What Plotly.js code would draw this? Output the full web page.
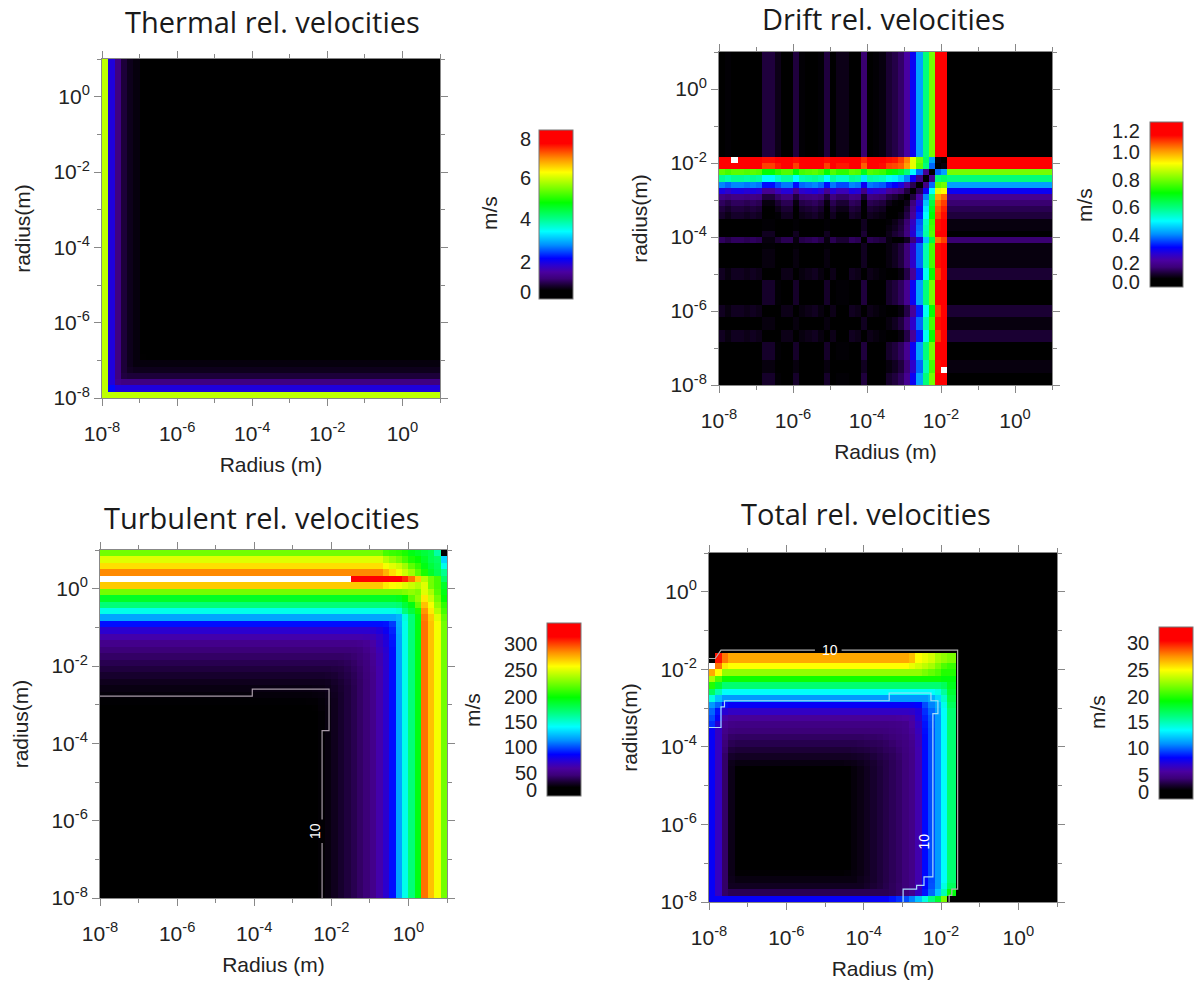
<!DOCTYPE html>
<html><head><meta charset="utf-8">
<script src="https://cdn.plot.ly/plotly-3.0.1.min.js"></script>
<style>html,body{margin:0;padding:0;background:#fff}</style></head>
<body><div id="chart" style="width:1198px;height:984px"></div>
<script>
// ---------- tick labels ----------
const majorTicks=[1e-8,1e-6,1e-4,1e-2,1];
const majorLabels=['10<sup>-8</sup>','10<sup>-6</sup>','10<sup>-4</sup>','10<sup>-2</sup>','10<sup>0</sup>'];
const minorTicks=[1e-7,1e-5,1e-3,1e-1,10];

// ---------- colour-bar levels (m/s) and where each one sits along its bar ----------
const thermalLevels=[0,2,4,6,8],            thermalStops=[.04,.219,.473,.716,.947];
const driftLevels=[0,.2,.4,.6,.8,1,1.2],    driftStops=[.03,.145,.315,.485,.65,.818,.945];
const turbLevels=[0,50,100,150,200,250,300],turbStops=[.035,.133,.283,.428,.572,.728,.879];
const totalLevels=[0,5,10,15,20,25,30],     totalStops=[.04,.14,.297,.448,.593,.75,.907];
const thermalLabels=['0','2','4','6','8'];
const driftLabels=['0.0','0.2','0.4','0.6','0.8','1.0','1.2'];
const turbLabels=['0','50','100','150','200','250','300'];
const totalLabels=['0','5','10','15','20','25','30'];

// ---------- Thermal: cell edges (log10 m) and values (m/s), rows bottom to top ----------
const thermalEdges=[-8,-7.833,-7.667,-7.5,-7.333,-7.167,-7,-6.833,1];
const thermalZ=[
[5.9,5.9,5.9,5.9,5.9,5.9,5.9,5.9],
[5.9,2.2,1.9,1.9,1.9,1.9,1.9,1.9],
[5.9,1.9,1.1,1,1,1,1,1],
[5.9,1.9,1,.55,.5,.5,.5,.5],
[5.9,1.9,1,.5,.35,.3,.3,.3],
[5.9,1.9,1,.5,.3,.2,.2,.2],
[5.9,1.9,1,.5,.3,.2,.12,.1],
[5.9,1.9,1,.5,.3,.2,.1,0]];

// ---------- Drift ----------
const driftEdges=[-8,-7.833,-7.667,-7.5,-7.333,-7.167,-7,-6.833,-6.667,-6.5,-6.333,-6.167,-6,-5.833,-5.667,-5.5,-5.333,-5.167,-5,-4.833,-4.667,-4.5,-4.333,-4.167,-4,-3.833,-3.667,-3.5,-3.333,-3.167,-3,-2.833,-2.667,-2.5,-2.333,-2.167,-2,-1.833,1];
const dDim=[0,.02,0,0,.01,0,.01,.08,.08,.04,.01,.01,.08,.02,.01,0,.02,.08,.01,.04,.04,0,.01,.1,.01,.02,.03,.08,.1,.13,.2,.3,.42,.6,.8,1.2,1.25,.02];
const dMid=[.03,.01,.03,.03,.02,.03,.02,.05,.05,.01,.02,.02,.05,.01,.02,.03,.01,.05,.02,.01,.01,.03,.02,.07,.02,.01,0,.05,.07,.1,.16,.26,.38,.56,.76,1.15,1.2,.05];
const dHole=[.03,.01,.03,.03,.02,.03,.02,.05,.05,.01,.02,.02,.05,.01,.02,.03,.01,.05,.02,.01,.01,.03,.02,.07,.02,.01,0,.05,.07,.1,.16,.26,.38,.56,.76,1.15,null,.05];
const dHigh=[.07,.05,.07,.07,.06,.07,.06,.01,.01,.03,.06,.06,.01,.05,.06,.07,.05,.01,.06,.03,.03,.07,.06,.01,.06,.05,.04,.01,.02,.05,.11,.21,.33,.51,.71,1.11,1.16,.09];
const d22=[.03,.02,.03,.03,.02,.03,.02,.04,.04,.02,.02,.02,.04,.02,.02,.03,.02,.04,.02,.02,.02,.01,0,.07,.02,.01,.01,.05,.07,.1,.16,.26,.38,.56,.76,1.15,1.2,.05];
const d23=[.13,.11,.13,.13,.12,.13,.12,.05,.05,.09,.12,.12,.05,.11,.12,.13,.11,.05,.12,.09,.09,.13,.12,0,.12,.11,.1,.05,.03,.02,.07,.16,.28,.45,.65,1.05,1.1,.15];
const d24=[.01,.02,.01,.01,.01,.01,.01,.07,.07,.03,.01,.01,.07,.02,.01,.01,.02,.07,.01,.03,.03,.01,.01,.09,0,.01,.02,.06,.09,.11,.17,.27,.39,.57,.77,1.17,1.22,.03];
const d25=[.03,.02,.03,.03,.02,.03,.02,.04,.04,.02,.02,.02,.04,.02,.02,.03,.02,.04,.02,.02,.02,.03,.02,.07,.02,0,.01,.05,.07,.1,.16,.26,.38,.56,.76,1.15,1.2,.05];
const d26=[.03,.02,.03,.03,.02,.03,.02,.04,.04,.02,.02,.02,.04,.02,.02,.03,.02,.04,.02,.02,.02,.03,.02,.07,.02,.01,0,.04,.06,.09,.15,.25,.37,.55,.75,1.15,1.2,.05];
const d27=[.08,.06,.08,.08,.07,.08,.07,.02,.02,.04,.07,.07,.02,.06,.07,.08,.06,.02,.07,.04,.04,.08,.07,.02,.07,.06,.05,0,.02,.05,.11,.21,.33,.5,.7,1.1,1.15,.1];
const d28=[.1,.08,.1,.1,.09,.1,.09,.03,.03,.06,.09,.09,.03,.08,.09,.1,.08,.03,.09,.06,.06,.1,.09,.02,.09,.08,.07,.03,0,.03,.09,.19,.3,.48,.68,1.08,1.13,.12];
const d29=[.13,.11,.13,.13,.12,.13,.12,.05,.05,.09,.12,.12,.05,.11,.12,.13,.11,.05,.12,.09,.09,.13,.12,.03,.12,.11,.1,.06,.04,0,.06,.16,.27,.45,.65,1.05,1.1,.15];
const d30=[.18,.16,.18,.18,.17,.18,.17,.1,.1,.14,.17,.17,.1,.16,.17,.18,.16,.1,.17,.14,.14,.18,.17,.08,.17,.16,.15,.11,.09,.06,0,.1,.22,.4,.6,1,1.05,.2];
const d31=[.28,.26,.28,.28,.27,.28,.27,.2,.2,.24,.27,.27,.2,.26,.27,.28,.26,.2,.27,.24,.24,.28,.27,.18,.27,.26,.25,.21,.19,.16,.1,0,.12,.3,.5,.9,.92,.3];
const d32=[.4,.38,.4,.4,.39,.4,.39,.32,.32,.36,.39,.39,.32,.38,.39,.4,.38,.32,.39,.36,.36,.4,.39,.3,.39,.38,.37,.33,.31,.28,.22,.12,0,.18,.38,.78,.8,.42];
const d33=[.58,.56,.58,.58,.57,.58,.57,.5,.5,.54,.57,.57,.5,.56,.57,.58,.56,.5,.57,.54,.54,.58,.57,.48,.57,.56,.55,.51,.49,.46,.4,.3,.18,0,.2,.6,.62,.6];
const d34=[.78,.76,.78,.78,.77,.78,.77,.7,.7,.74,.77,.77,.7,.76,.77,.78,.76,.7,.77,.74,.74,.78,.77,.68,.77,.76,.75,.71,.69,.66,.6,.5,.38,.2,0,.38,.42,.8];
const d35=[1.18,1.16,1.18,1.18,1.17,1.18,1.17,1.1,1.1,1.14,1.17,1.17,1.1,1.16,1.17,1.18,1.16,1.1,1.17,1.14,1.14,1.18,1.17,1.07,1.17,1.16,1.15,1.1,1.09,1.07,1,.9,.78,.6,.38,0,.05,1.2];
const d36=[1.23,1.21,null,1.23,1.22,1.23,1.22,1.15,1.15,1.19,1.22,1.22,1.15,1.21,1.22,1.23,1.21,1.15,1.22,1.19,1.19,1.23,1.22,1.12,1.22,1.21,1.2,1.15,1.14,1.1,1.03,.9,.8,.62,.42,.05,0,1.25];
const d37=[.02,.04,.02,.02,.03,.02,.03,.1,.1,.06,.03,.03,.1,.04,.03,.02,.04,.1,.03,.06,.06,.02,.03,.15,.03,.04,.05,.09,.11,.14,.22,.3,.42,.6,.8,1.2,1.25,0];
const driftZ=[dDim,dDim,dHole,dMid,dDim,dDim,dDim,dHigh,dHigh,dMid,dMid,dHigh,dHigh,dDim,dDim,dDim,dDim,dHigh,dHigh,dMid,dMid,dMid,d22,d23,d24,d25,d26,d27,d28,d29,d30,d31,d32,d33,d34,d35,d36,d37];

// ---------- Turbulent ----------
const turbXEdges=[-8,-3,-2.833,-2.667,-2.5,-2.333,-2.167,-2,-1.833,-1.667,-1.5,-1.333,-1.167,-1,-.833,-.667,-.5,-.333,-.167,0,.167,.333,.5,.667,.833,1];
const turbYEdges=[-8,-3.5,-3.333,-3.167,-3,-2.833,-2.667,-2.5,-2.333,-2.167,-2,-1.833,-1.667,-1.5,-1.333,-1.167,-1,-.833,-.667,-.5,-.333,-.167,0,.167,.333,.5,.667,.833,1];
const turbZ=[
[1.5,3,4,5.5,7,9,12,17,22,27,32,38,44,52,62,72,88,118,145,170,195,290,272,255,225],
[3.5,4,4.5,5.5,7,9,12,17,22,27,32,38,44,52,62,72,88,118,145,170,195,290,272,255,225],
[5,5,5.5,6,7.5,9,12,17,22,27,32,38,44,52,62,72,88,118,145,170,195,290,272,255,225],
[6.5,6.5,7,7,8,10,12,17,22,27,32,38,44,52,62,72,88,118,145,170,195,290,272,255,225],
[8.5,8.5,8.5,9,9,10.5,13,17,22,27,32,38,44,52,62,72,88,118,145,170,195,290,272,255,225],
[11,11,11,11,11.5,12,14,18,22,27,32,38,44,52,62,72,88,118,145,170,195,290,272,255,225],
[13.5,13.5,13.5,13.5,14,14.5,16,19,23,27,32,38,44,52,62,72,88,118,145,170,195,290,272,255,225],
[17,17,17,17,17,17,18,21,24,28,33,38,44,52,62,72,88,118,145,170,195,290,272,255,225],
[22,22,22,22,22,22,23,24,27,30,34,39,45,52,62,72,88,118,145,170,195,290,272,255,225],
[27,27,27,27,27,27,27,28,29,32,36,40,46,53,62,72,88,118,145,170,195,290,272,255,225],
[32,32,32,32,32,32,32,32,33,35,38,42,47,54,63,72,88,118,145,170,195,290,272,255,225],
[38,38,38,38,38,38,38,38,38,39,41,44,49,55,63,72,88,118,145,170,195,290,272,255,225],
[44,44,44,44,44,44,44,44,44,44,45,47,52,57,65,73,88,118,145,170,195,290,272,255,225],
[52,52,52,52,52,52,52,52,52,52,52,53,55,60,67,75,89,118,145,170,195,290,272,255,225],
[62,62,62,62,62,62,62,62,62,62,62,62,63,65,70,77,90,118,145,170,195,290,272,255,225],
[72,72,72,72,72,72,72,72,72,72,72,72,72,73,76,82,92,119,145,170,195,290,272,255,225],
[88,88,88,88,88,88,88,88,88,88,88,88,88,88,88,89,96,120,145,170,195,290,272,255,225],
[118,118,118,118,118,118,118,118,118,118,118,118,118,118,118,118,118,122,147,170,195,288,270,250,222],
[145,145,145,145,145,145,145,145,145,145,145,145,145,145,145,145,145,148,170,185,205,282,262,240,215],
[170,170,170,170,170,170,170,170,170,170,170,170,170,170,170,170,170,172,185,195,222,272,255,232,210],
[190,190,190,190,190,190,190,190,190,190,190,190,190,190,190,190,190,192,200,220,232,262,245,225,200],
[225,225,225,225,225,225,225,225,225,225,225,225,225,225,225,225,225,225,228,232,228,250,238,218,195],
[270,270,270,270,270,270,270,270,270,270,270,270,270,270,270,262,258,255,250,245,240,250,225,215,190],
[null,null,null,null,null,null,null,null,null,null,335,335,335,335,335,335,335,330,305,290,270,240,225,215,175],
[285,285,285,285,285,285,285,285,285,285,285,285,285,285,285,275,265,255,245,235,220,205,190,180,165],
[265,265,265,265,265,265,265,265,265,265,265,265,265,265,265,255,250,245,235,220,210,195,185,178,145],
[250,250,250,250,250,250,250,250,250,250,250,250,250,250,250,240,232,225,215,205,200,190,180,175,130],
[225,225,225,225,225,225,225,225,225,225,225,225,225,225,225,215,212,210,205,195,190,185,180,160,0]];
const turbContourX=[-8,-4.05,-4.05,-2.06,-2.06,-2.24,-2.24,null,-2.24,-2.24];
const turbContourY=[-2.78,-2.78,-2.6,-2.6,-3.67,-3.67,-5.97,null,-6.58,-8];

// ---------- Total ----------
const totalXEdges=[-8,-7.833,-7.667,-7.5,-7.333,-4.5,-4.333,-4.167,-4,-3.833,-3.667,-3.5,-3.333,-3.167,-3,-2.833,-2.667,-2.5,-2.333,-2.167,-2,-1.833,-1.62,1];
const totalYEdges=[-8,-7.833,-7.667,-7.5,-7.333,-7.167,-4.5,-4.333,-4.167,-4,-3.833,-3.667,-3.5,-3.333,-3.167,-3,-2.833,-2.667,-2.5,-2.333,-2.167,-2,-1.833,-1.59,1];
const totalZ=[
[8,8,8,8,8,8,8,8,8,8,8,8,8.5,9,9.5,10.5,12,14,16,18,22,0,0],
[8,6.5,3.5,3,3,3,3,3,3,3,3,3,3.2,3.6,4.2,5,6.5,8.5,10,12,15,19,0],
[8,6.5,3.5,1.5,1.5,1.5,1.5,1.5,1.8,2.1,2.4,2.8,3.2,3.6,4.1,4.8,6,8.3,9.6,11,14,17,0],
[8,6.5,3.5,1.3,1,1,1,1.3,1.6,1.9,2.3,2.7,3.1,3.5,4.1,4.8,6,8.3,9.5,11,13.5,16.5,0],
[8,6.5,3.5,1.2,.6,.7,.9,1.1,1.5,1.9,2.3,2.7,3.1,3.5,4.1,4.8,6,8.3,9.5,11,13.5,16.5,0],
[8,6.5,3.5,1.2,.3,.5,.8,1.1,1.5,1.9,2.3,2.7,3.1,3.5,4.1,4.8,6,8.3,9.5,11,13.5,16.5,0],
[8,6.5,3.5,1.3,1,1.1,1.2,1.4,1.7,2,2.4,2.7,3.1,3.5,4.1,4.8,6,8.3,9.5,11,13.5,16.5,0],
[8,6.5,3.5,1.8,1.6,1.6,1.7,1.8,2,2.3,2.6,2.9,3.2,3.6,4.2,4.8,6,8.3,9.5,11,13.5,16.5,0],
[8,6.5,3.8,2.4,2.2,2.2,2.3,2.4,2.5,2.7,2.9,3.2,3.4,3.8,4.3,4.9,6,8.3,9.5,11,13.5,16.5,0],
[8,6.5,4,3,2.8,2.8,2.8,2.9,3,3.1,3.2,3.4,3.7,4,4.4,5,6.1,8.3,9.5,11,13.5,16.5,0],
[8,6.5,4.4,3.5,3.4,3.4,3.4,3.4,3.5,3.5,3.6,3.8,4,4.3,4.6,5.2,6.2,8.3,9.5,11,13.5,16.5,0],
[8,6.5,4.8,4.1,4,4,4,4,4,4.1,4.1,4.2,4.4,4.6,4.9,5.4,6.4,8.4,9.5,11,13.5,16.5,0],
[9,7,5.2,4.7,4.6,4.6,4.6,4.6,4.6,4.6,4.6,4.6,4.7,4.8,5,5.6,6.6,8.5,9.6,11,13.5,16.5,0],
[9.5,8,5.8,5.4,5.4,5.4,5.4,5.4,5.4,5.4,5.4,5.4,5.4,5.5,5.6,5.8,7,8.7,9.7,11,13.5,16.5,0],
[10,8.5,7,6.6,6.6,6.6,6.6,6.6,6.6,6.6,6.6,6.6,6.6,6.6,6.6,6.7,7.2,9,10,11.2,13.5,16.5,0],
[11,10,8.4,8,8,8,8,8,8,8,8,8,8,8,8,8,8.2,9.5,10.5,11.5,13.8,17,0],
[14,12,11,11,11,11,11,11,11,11,11,11,11,11,11,11,11,11,11.5,12.5,14.5,17.5,0],
[17,15,13.5,13.5,13.5,13.5,13.5,13.5,13.5,13.5,13.5,13.5,13.5,13.5,13.5,13.5,13.5,13.5,13.5,14,15.5,18,0],
[20,18,16.5,16.5,16.5,16.5,16.5,16.5,16.5,16.5,16.5,16.5,16.5,16.5,16.5,16.5,16.5,16.5,16.5,16.5,17,18.5,0],
[23,21,19.5,19.5,19.5,19.5,19.5,19.5,19.5,19.5,19.5,19.5,19.5,19.5,19.5,19.5,19.5,19.5,19.5,19.5,19,19,0],
[27,25,22.5,22.5,22.5,22.5,22.5,22.5,22.5,22.5,22.5,22.5,22.5,22.5,22.5,22.5,22.5,22,21.5,21,20,20,0],
[null,28,25.5,25,25,25,25,25,25,25,25,25,25,25,25,24.5,24,23.5,23,22,21,20.5,0],
[0,30,28,27,27,27,27,27,27,27,27,27,27,27,27,26.5,25,24.5,24,23,22.5,22,0],
[0,0,0,0,0,0,0,0,0,0,0,0,0,0,0,0,0,0,0,0,0,0,0]];
const totalOuterX=[-8,-7.84,-7.69,-5.26,null,-4.57,-1.57,-1.57,-1.72,-1.72,-1.79,-1.79];
const totalOuterY=[-1.72,-1.72,-1.505,-1.505,null,-1.505,-1.505,-7.67,-7.67,-7.83,-7.83,-8];
const totalInnerX=[-8,-7.69,-7.69,-7.6,-7.6,-3.34,-3.34,-2.26,-2.26,-2.08,-2.08,-2.21,-2.21,-2.44,-2.44,-2.63,-2.63,-2.98,-2.98];
const totalInnerY=[-3.5,-3.5,-2.97,-2.97,-2.81,-2.81,-2.61,-2.61,-2.81,-2.81,-3.14,-3.14,-7.35,-7.35,-7.57,-7.57,-7.67,-7.67,-8];

// ---------- styling ----------
const W=1198,H=984;
const SANS='"Liberation Sans", Arial, sans-serif';
const INK='#222';
const rainbow=[[0,'#000000'],[.05,'#000000'],[.08,'#180030'],[.12,'#3c0078'],[.16,'#4a00a0'],[.20,'#2a00d0'],[.24,'#0000ff'],[.32,'#0090ff'],[.40,'#00ffff'],[.48,'#00ff80'],[.57,'#00ff00'],[.66,'#80ff00'],[.75,'#ffff00'],[.83,'#ff9000'],[.92,'#ff0000'],[1,'#ff0000']];

function stretch(v,lv,st){
  if(v===null) return null;
  let i=0; while(i<lv.length-2 && v>lv[i+1]) i++;
  const f=st[i]+(v-lv[i])*(st[i+1]-st[i])/(lv[i+1]-lv[i]);
  return Math.max(0,Math.min(1,f));
}
const toM=e=>e===null?null:Math.pow(10,e);

const panels=[
 {id:'',  box:[102,440,59,398],  cb:[539,34,130,299], z:thermalZ, xe:thermalEdges, ye:thermalEdges, lv:thermalLevels, st:thermalStops, lb:thermalLabels, title:'Thermal rel. velocities',  tc:[272,22], ms:[490,213]},
 {id:'2', box:[719,1052,52,385], cb:[1150,33,122,287],z:driftZ,   xe:driftEdges,   ye:driftEdges,   lv:driftLevels,   st:driftStops,   lb:driftLabels,   title:'Drift rel. velocities',    tc:[883,18], ms:[1084,205]},
 {id:'3', box:[100,447,550,898], cb:[547,34,623,796], z:turbZ,    xe:turbXEdges,   ye:turbYEdges,   lv:turbLevels,    st:turbStops,    lb:turbLabels,    title:'Turbulent rel. velocities',tc:[262,517],ms:[472,710]},
 {id:'4', box:[709,1057,553,902],cb:[1159,34,627,799],z:totalZ,   xe:totalXEdges,  ye:totalYEdges,  lv:totalLevels,   st:totalStops,   lb:totalLabels,   title:'Total rel. velocities',    tc:[866,513],ms:[1097,712]}
];
const labelRight=[533,1142,539,1151];

const layout={width:W,height:H,margin:{l:0,r:0,t:0,b:0},autosize:false,showlegend:false,
  paper_bgcolor:'#fff',plot_bgcolor:'#fff',annotations:[]};
const data=[];
const axisCommon={type:'log',range:[-8,1],tickmode:'array',tickvals:majorTicks,ticktext:majorLabels,
  ticks:'outside',ticklen:7,tickwidth:1,tickcolor:'#888',showline:true,linecolor:'#888',linewidth:1,mirror:'ticks',
  showgrid:false,zeroline:false,tickfont:{family:SANS,size:21,color:INK},
  minor:{tickmode:'array',tickvals:minorTicks,ticks:'outside',ticklen:4,tickcolor:'#888',tickwidth:1,showgrid:false}};

panels.forEach((p,n)=>{
  const [l,r,t,b]=p.box;
  layout['xaxis'+p.id]=Object.assign({},axisCommon,{domain:[l/W,r/W],anchor:'y'+p.id,ticklabelstandoff:10,
    title:{text:'Radius (m)',font:{family:SANS,size:21,color:INK},standoff:13}});
  layout['yaxis'+p.id]=Object.assign({},axisCommon,{domain:[1-b/H,1-t/H],anchor:'x'+p.id,ticklabelstandoff:0,
    title:{text:'radius(m)',font:{family:SANS,size:21,color:INK},standoff:17}});
  const [cl,ct,ctop,cbot]=p.cb;
  data.push({type:'heatmap',xaxis:'x'+p.id,yaxis:'y'+p.id,
    x:p.xe.map(toM),y:p.ye.map(toM),
    z:p.z.map(row=>row.map(v=>stretch(v,p.lv,p.st))),
    zmin:0,zmax:1,colorscale:rainbow,hoverinfo:'skip',
    colorbar:{x:cl/W,xanchor:'left',xpad:0,y:1-cbot/H,yanchor:'bottom',ypad:0,
      thicknessmode:'pixels',thickness:ct,lenmode:'pixels',len:cbot-ctop,
      showticklabels:false,ticks:'',outlinecolor:'#777',outlinewidth:1,borderwidth:0}});
  p.lb.forEach((txt,i)=>layout.annotations.push({xref:'paper',yref:'paper',xanchor:'right',yanchor:'middle',
    x:labelRight[n]/W,y:1-(cbot-p.st[i]*(cbot-ctop))/H,text:txt,showarrow:false,font:{family:SANS,size:20,color:INK}}));
  layout.annotations.push({xref:'paper',yref:'paper',x:p.ms[0]/W,y:1-p.ms[1]/H,xanchor:'center',yanchor:'middle',
    text:'m/s',textangle:-90,showarrow:false,font:{family:SANS,size:21,color:INK}});
  layout.annotations.push({xref:'paper',yref:'paper',x:p.tc[0]/W,y:1-p.tc[1]/H,xanchor:'center',yanchor:'middle',
    text:p.title,showarrow:false,font:{family:'"Open Sans", Lato, sans-serif',size:29,color:'#1a1a1a'}});
});

function contour(xs,ys,axisId,color){
  data.push({type:'scatter',mode:'lines',xaxis:'x'+axisId,yaxis:'y'+axisId,x:xs.map(toM),y:ys.map(toM),
    connectgaps:false,hoverinfo:'skip',line:{color:color,width:1.2}});
}
contour(turbContourX,turbContourY,'3','#a89aa8');
contour(totalOuterX,totalOuterY,'4','#b0b0b0');
contour(totalInnerX,totalInnerY,'4','#a8dcf8');
function contourLabel(axisId,xe,ye,angle){
  layout.annotations.push({xref:'x'+axisId,yref:'y'+axisId,x:xe,y:ye,text:'10',textangle:angle,showarrow:false,
    font:{family:SANS,size:14,color:'#fff'}});
}
contourLabel('3',-2.41,-6.28,-90);
contourLabel('4',-2.43,-6.43,-90);
contourLabel('4',-4.87,-1.5,0);

Plotly.newPlot('chart',data,layout,{displayModeBar:false,responsive:false});
</script></body></html>
